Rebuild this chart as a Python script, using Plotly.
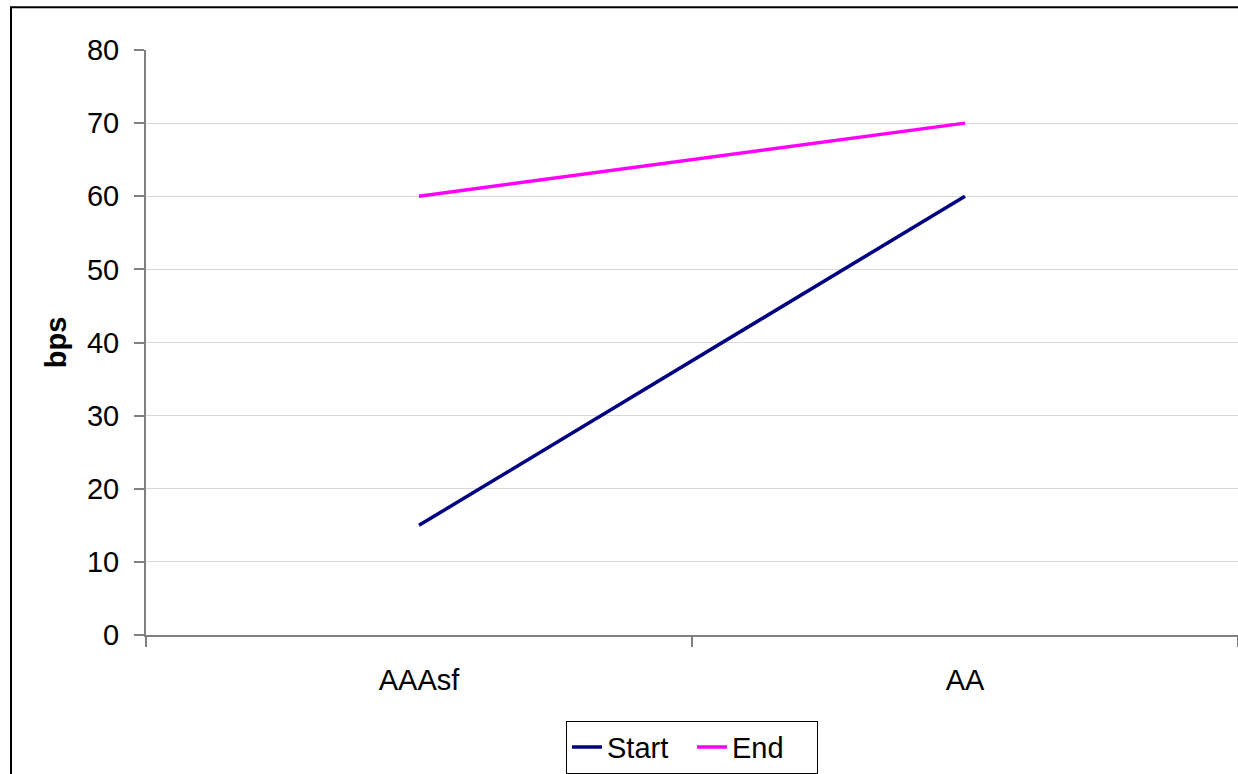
import plotly.graph_objects as go

categories = ["AAAsf", "AA"]
start_values = [15, 60]
end_values = [60, 70]
y_ticks = [0, 10, 20, 30, 40, 50, 60, 70, 80]

FONT = "Liberation Sans, Arial, sans-serif"
FS = 29

fig = go.Figure()
fig.add_trace(go.Scatter(x=categories, y=start_values, mode="lines", name="Start",
                         line=dict(color="#000080", width=3.5)))
fig.add_trace(go.Scatter(x=categories, y=end_values, mode="lines", name="End",
                         line=dict(color="#FF00FF", width=3.5)))

W, H = 1238, 774
ml, mr, mt, mb = 146, 0, 50, 136
pw = W - ml - mr
ph = H - mt - mb

fig.update_layout(
    width=W, height=H,
    margin=dict(l=ml, r=mr, t=mt, b=mb, pad=0),
    paper_bgcolor="white", plot_bgcolor="white",
    font=dict(family=FONT, size=FS, color="black"),
    showlegend=True,
    legend=dict(orientation="h", x=0.5, xanchor="center",
                y=-(724 - (H - mb)) / ph, yanchor="top",
                bordercolor="black", borderwidth=1, bgcolor="white",
                font=dict(family=FONT, size=FS, color="black"),
                entrywidth=80, entrywidthmode="pixels",
                itemwidth=30, tracegroupgap=0),
    xaxis=dict(type="category", range=[-0.5, 1.5], tickson="boundaries",
               ticks="outside", ticklen=10, tickcolor="#808080", tickwidth=2,
               ticklabelstandoff=18,
               showline=True, linecolor="#808080", linewidth=2,
               showgrid=False, zeroline=False,
               tickfont=dict(family=FONT, size=FS, color="black")),
    yaxis=dict(range=[0, 80], tickvals=y_ticks, ticks="outside", ticklen=10,
               tickcolor="#808080", tickwidth=2, ticklabelstandoff=9,
               showline=True, linecolor="#808080", linewidth=2,
               showgrid=True, gridcolor="#D9D9D9", gridwidth=1,
               zeroline=False,
               tickfont=dict(family=FONT, size=FS, color="black"),
               title=dict(text="<b>bps</b>", font=dict(family=FONT, size=FS, color="black"),
                          standoff=12)),
)

# outer chart border (partially cropped in the reference)
fig.add_shape(type="rect", xref="paper", yref="paper",
              x0=(11 - ml) / pw, x1=(W + 20 - ml) / pw,
              y0=-(H + 20 - mt - ph) / ph, y1=(mt - 7) / ph + 1,
              line=dict(color="black", width=2), fillcolor="rgba(0,0,0,0)", layer="below")

fig.write_html("out.html", config={"displayModeBar": False})

with open("out.html", "r", encoding="utf-8") as f:
    html = f.read()
html = html.replace("<head>", "<head><style>html,body{margin:0;padding:0;overflow:hidden}</style>", 1)
with open("out.html", "w", encoding="utf-8") as f:
    f.write(html)
